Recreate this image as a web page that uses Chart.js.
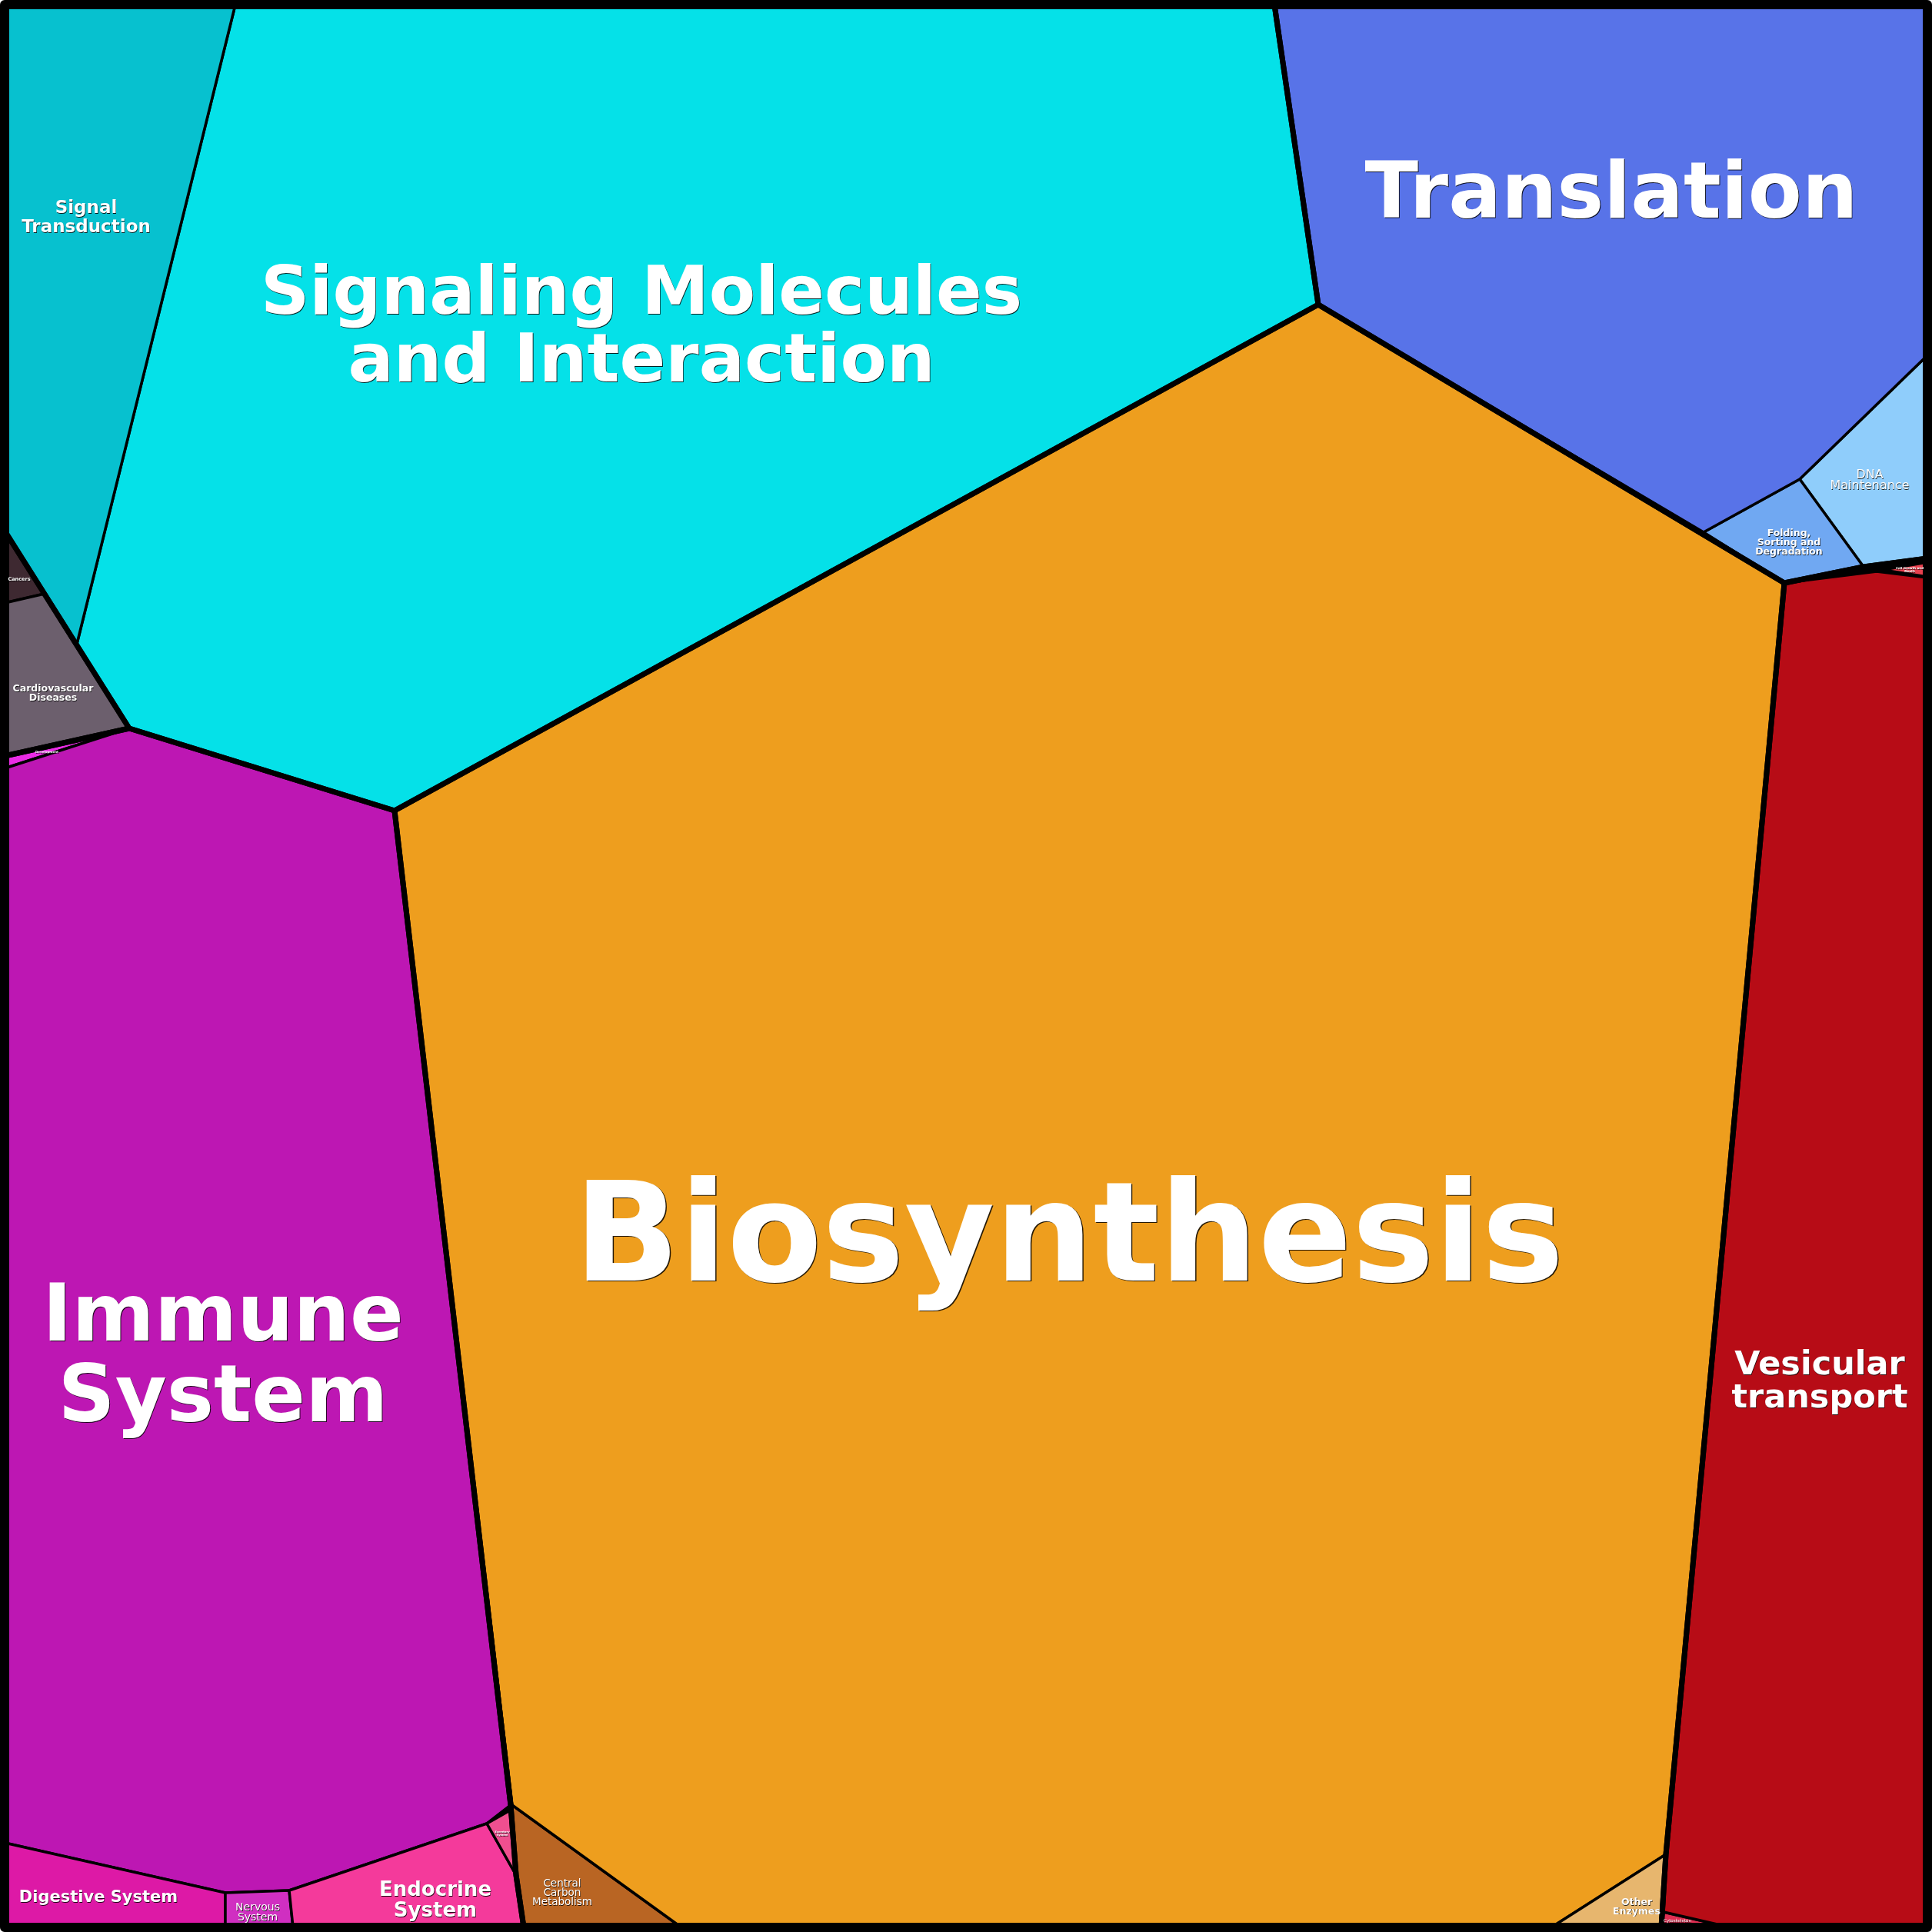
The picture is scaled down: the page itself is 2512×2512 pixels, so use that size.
<!DOCTYPE html>
<html>
<head>
<meta charset="utf-8">
<title>Pathway Voronoi treemap</title>
<script src="https://cdn.jsdelivr.net/npm/chart.js@4.4.1/dist/chart.umd.min.js"></script>
<style>
  html, body { margin: 0; padding: 0; background: #ffffff; }
  #wrap { width: 2512px; height: 2512px; }
</style>
</head>
<body>
<div id="wrap"><canvas id="graph" width="2512" height="2512"></canvas></div>
<script>
// Categories (cells) and the top level group each one belongs to
const cells = [
    'Signal Transduction', 'Signaling Molecules and Interaction',
    'Translation', 'Folding, Sorting and Degradation', 'DNA Maintenance',
    'Cell Growth and Death', 'Vesicular transport', 'Cytoskeleton',
    'Other Enzymes', 'Biosynthesis', 'Central Carbon Metabolism',
    'Excretory System', 'Endocrine System', 'Nervous System', 'Digestive System',
    'Immune System', 'Development', 'Cardiovascular Diseases', 'Cancers'
];
const cellGroups = [
    'Environmental', 'Environmental',
    'Genetic', 'Genetic', 'Genetic',
    'Cellular', 'Cellular', 'Cellular',
    'Metabolism', 'Metabolism', 'Metabolism',
    'Organismal', 'Organismal', 'Organismal', 'Organismal',
    'Organismal', 'Organismal', 'Diseases', 'Diseases'
];

// Cell polygons (layout units 0..2512, y down)
const cellVertices = [
    [[6, 6], [306, 6], [100, 837], [6, 690]],
    [[306, 6], [1657, 6], [1714, 396], [513, 1054], [168, 947], [100, 837]],
    [[1657, 6], [2506, 6], [2506, 462], [2340, 623], [2215, 692], [1714, 396]],
    [[2215, 692], [2340, 623], [2423, 737], [2320, 758]],
    [[2340, 623], [2506, 462], [2506, 726], [2423, 737]],
    [[2448, 741], [2506, 731], [2506, 750]],
    [[2320, 758], [2440, 743], [2506, 751], [2506, 2506], [2250, 2506], [2163, 2486], [2166, 2411]],
    [[2163, 2486], [2250, 2506], [2160, 2506]],
    [[2017, 2506], [2166, 2411], [2160, 2506]],
    [[1714, 396], [2320, 758], [2166, 2411], [2017, 2506], [886, 2506], [666, 2347], [513, 1054]],
    [[666, 2347], [886, 2506], [681, 2506], [671, 2438], [663, 2354]],
    [[633, 2371], [663, 2354], [671, 2438]],
    [[376, 2458], [633, 2371], [671, 2438], [681, 2506], [381, 2506]],
    [[293, 2461], [376, 2458], [381, 2506], [293, 2506]],
    [[6, 2396], [293, 2461], [293, 2506], [6, 2506]],
    [[6, 999], [168, 947], [513, 1054], [664, 2347], [633, 2371], [376, 2458], [293, 2461], [6, 2396]],
    [[6, 983], [168, 947], [6, 999]],
    [[6, 784], [58, 772], [168, 947], [6, 983]],
    [[6, 690], [58, 772], [6, 784]]
];

// Top level groups and their outlines
const groups = ['Environmental', 'Genetic', 'Metabolism', 'Cellular', 'Organismal', 'Diseases'];
const groupVertices = [
    [[6, 6], [1657, 6], [1714, 396], [513, 1054], [168, 947], [6, 690]],
    [[1657, 6], [2506, 6], [2506, 726], [2423, 737], [2320, 758], [1714, 396]],
    [[1714, 396], [2320, 758], [2166, 2411], [2160, 2506], [681, 2506], [671, 2438], [664, 2347], [513, 1054]],
    [[2320, 758], [2423, 737], [2506, 726], [2506, 2506], [2160, 2506], [2166, 2411]],
    [[6, 983], [168, 947], [513, 1054], [664, 2347], [671, 2438], [681, 2506], [6, 2506]],
    [[6, 690], [168, 947], [6, 983]]
];
const frameVertices = [[6, 6], [2506, 6], [2506, 2506], [6, 2506]];

// Colours per cell
const cellColors = {
    'Signal Transduction': '#07c1cf',
    'Signaling Molecules and Interaction': '#05e1e8',
    'Translation': '#5873e8',
    'Folding, Sorting and Degradation': '#70a8f2',
    'DNA Maintenance': '#8fcdfb',
    'Cell Growth and Death': '#e8404e',
    'Vesicular transport': '#b70c16',
    'Cytoskeleton': '#e02e52',
    'Other Enzymes': '#e7b66e',
    'Biosynthesis': '#ee9e1e',
    'Central Carbon Metabolism': '#b96523',
    'Excretory System': '#ef4f8f',
    'Endocrine System': '#f43a9b',
    'Nervous System': '#d02fc1',
    'Digestive System': '#dd19a6',
    'Immune System': '#bd17b3',
    'Development': '#ea2ce5',
    'Cardiovascular Diseases': '#6c5f6d',
    'Cancers': '#3e2931'
};

// Label placement (first baseline), size and weight
const labelStyle = {
    'Signal Transduction': { lines: ['Signal', 'Transduction'], x: 112, y: 277, size: 23, lh: 25, bold: true },
    'Signaling Molecules and Interaction': { lines: ['Signaling Molecules', 'and Interaction'], x: 834, y: 408, size: 88, lh: 88, bold: true },
    'Translation': { lines: ['Translation'], x: 2095, y: 283, size: 102, bold: true },
    'Folding, Sorting and Degradation': { lines: ['Folding,', 'Sorting and', 'Degradation'], x: 2326, y: 697, size: 12.5, lh: 12, bold: true },
    'DNA Maintenance': { lines: ['DNA', 'Maintenance'], x: 2431, y: 622, size: 16, lh: 14, bold: false },
    'Cell Growth and Death': { lines: ['Cell Growth and', 'Death'], x: 2483, y: 740, size: 4, lh: 4, bold: true },
    'Vesicular transport': { lines: ['Vesicular', 'transport'], x: 2366, y: 1787, size: 43, lh: 43, bold: true },
    'Cytoskeleton': { lines: ['Cytoskeleton'], x: 2181, y: 2499, size: 5.5, bold: false },
    'Other Enzymes': { lines: ['Other', 'Enzymes'], x: 2128, y: 2477, size: 12.5, lh: 11.5, bold: true },
    'Biosynthesis': { lines: ['Biosynthesis'], x: 1390, y: 1665, size: 180, bold: true },
    'Central Carbon Metabolism': { lines: ['Central', 'Carbon', 'Metabolism'], x: 731, y: 2453, size: 13.5, lh: 12, bold: false },
    'Excretory System': { lines: ['Excretory', 'System'], x: 653, y: 2383, size: 3.5, lh: 4, bold: true },
    'Endocrine System': { lines: ['Endocrine', 'System'], x: 566, y: 2465, size: 26, lh: 27, bold: true },
    'Nervous System': { lines: ['Nervous', 'System'], x: 335, y: 2484, size: 14, lh: 13, bold: false },
    'Digestive System': { lines: ['Digestive System'], x: 128, y: 2473, size: 21, bold: true },
    'Immune System': { lines: ['Immune', 'System'], x: 290, y: 1743, size: 103, lh: 105, bold: true },
    'Development': { lines: ['Development'], x: 61, y: 979, size: 4, bold: true },
    'Cardiovascular Diseases': { lines: ['Cardiovascular', 'Diseases'], x: 69, y: 899, size: 12.5, lh: 12, bold: true },
    'Cancers': { lines: ['Cancers'], x: 25, y: 755, size: 6.5, bold: true }
};

function toPoints(poly) {
    const pts = poly.map(p => ({ x: p[0], y: p[1] }));
    pts.push({ x: poly[0][0], y: poly[0][1] });
    return pts;
}

const datasets = [];

// frame on top
datasets.push({
    label: 'frame',
    data: toPoints(frameVertices),
    showLine: true, fill: false,
    borderColor: '#000000', borderWidth: 12,
    borderJoinStyle: 'round', borderCapStyle: 'round',
    pointRadius: 0, pointHoverRadius: 0, tension: 0, clip: false, order: 0
});

// thick group borders
groups.forEach((g, i) => {
    datasets.push({
        label: g,
        data: toPoints(groupVertices[i]),
        showLine: true, fill: false,
        borderColor: '#000000', borderWidth: 7,
        borderJoinStyle: 'round', borderCapStyle: 'round',
        pointRadius: 0, pointHoverRadius: 0, tension: 0, clip: false, order: 1
    });
});

// filled cells with thin borders
cells.forEach((c, i) => {
    datasets.push({
        label: c,
        data: toPoints(cellVertices[i]),
        showLine: true, fill: 'shape',
        backgroundColor: cellColors[c],
        borderColor: '#000000', borderWidth: 3.5,
        borderJoinStyle: 'round', borderCapStyle: 'round',
        pointRadius: 0, pointHoverRadius: 0, tension: 0, clip: false, order: 2
    });
});

// black backing so hairline gaps between cells read as borders
const backdrop = {
    id: 'backdrop',
    beforeDatasetsDraw(chart) {
        const { ctx, scales } = chart;
        const x0 = scales.x.getPixelForValue(6), x1 = scales.x.getPixelForValue(2506);
        const y0 = scales.y.getPixelForValue(6), y1 = scales.y.getPixelForValue(2506);
        ctx.save();
        ctx.fillStyle = '#000000';
        ctx.fillRect(x0, y0, x1 - x0, y1 - y0);
        ctx.restore();
    }
};

const cellLabels = {
    id: 'cellLabels',
    afterDatasetsDraw(chart) {
        const { ctx, scales } = chart;
        ctx.save();
        ctx.textAlign = 'center';
        ctx.textBaseline = 'alphabetic';
        cells.forEach(c => {
            const s = labelStyle[c];
            if (!s) return;
            const px = scales.x.getPixelForValue(s.x);
            ctx.font = (s.bold ? 'bold ' : '') + s.size + 'px "DejaVu Sans"';
            const off = Math.max(0.6, Math.min(1.4, s.size / 110));
            s.lines.forEach((line, k) => {
                const py = scales.y.getPixelForValue(s.y + k * (s.lh || 0));
                ctx.fillStyle = 'rgba(0,0,0,0.85)';
                ctx.fillText(line, px + off, py + off);
                ctx.fillStyle = '#ffffff';
                ctx.fillText(line, px, py);
            });
        });
        ctx.restore();
    }
};

const ctx = document.getElementById('graph').getContext('2d');

const config = {
    type: 'scatter',
    data: { datasets: datasets },
    options: {
        responsive: false,
        animation: false,
        devicePixelRatio: 1,
        layout: { padding: 0 },
        plugins: {
            legend: { display: false },
            tooltip: { enabled: false }
        },
        scales: {
            x: { type: 'linear', min: 0, max: 2512, display: false },
            y: { type: 'linear', min: 0, max: 2512, reverse: true, display: false }
        }
    },
    plugins: [backdrop, cellLabels]
};

const myChart = new Chart(ctx, config);
</script>
</body>
</html>
